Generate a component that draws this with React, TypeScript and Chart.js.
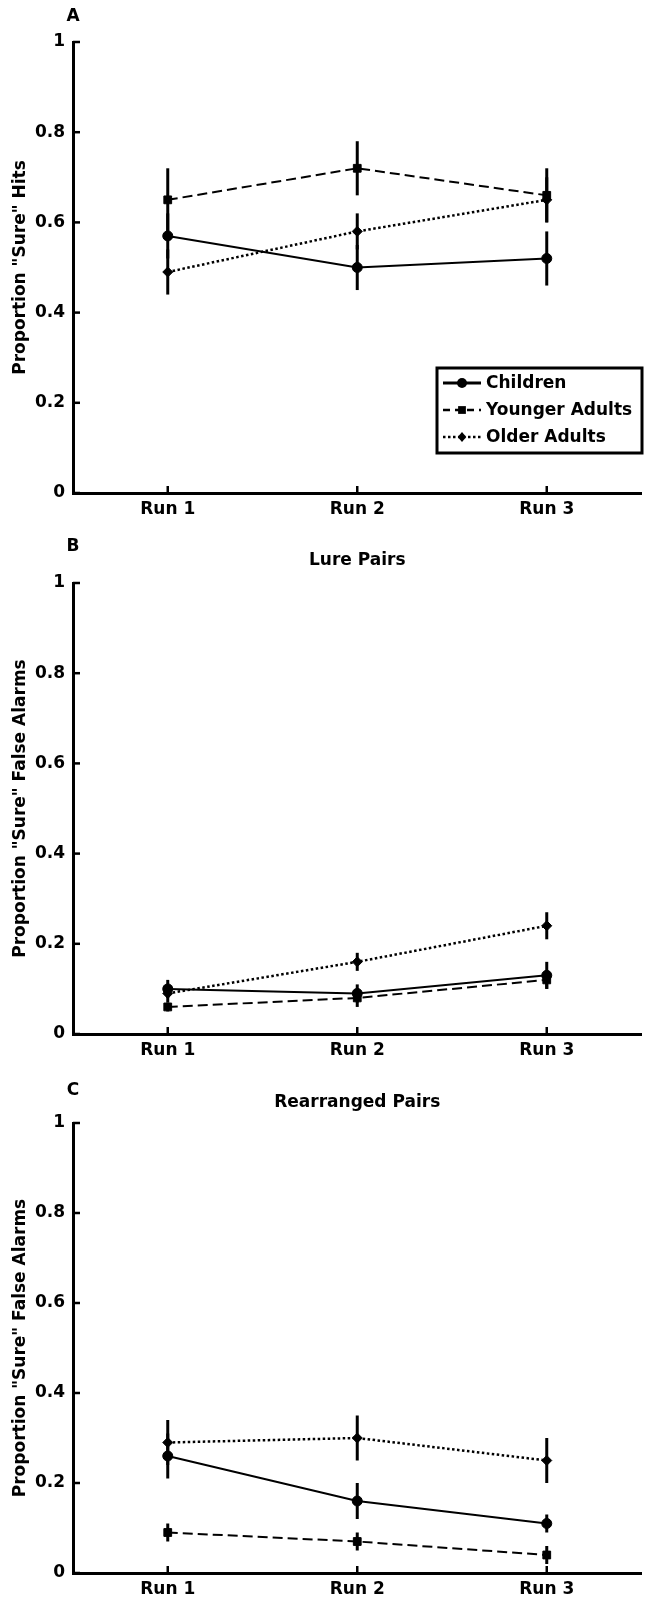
import React, { useEffect, useRef } from "react";
import { Chart, registerables } from "chart.js";

Chart.register(...registerables);

const FONT = "'DejaVu Sans', 'Liberation Sans', Arial, sans-serif";

// ---- categories / labels ----
const runs = ["Run 1", "Run 2", "Run 3"];
const groups = ["Children", "Younger Adults", "Older Adults"];
const yTickValues = [0, 0.2, 0.4, 0.6, 0.8, 1];
const yTickLabels = ["0", "0.2", "0.4", "0.6", "0.8", "1"];

// ---- Panel A: "Sure" hits ----
const hitsChildren = [0.57, 0.5, 0.52];
const hitsChildrenErr = [0.05, 0.05, 0.06];
const hitsYounger = [0.65, 0.72, 0.66];
const hitsYoungerErr = [0.07, 0.06, 0.06];
const hitsOlder = [0.49, 0.58, 0.65];
const hitsOlderErr = [0.05, 0.04, 0.05];

// ---- Panel B: Lure pairs false alarms ----
const lureChildren = [0.1, 0.09, 0.13];
const lureChildrenErr = [0.02, 0.02, 0.03];
const lureYounger = [0.06, 0.08, 0.12];
const lureYoungerErr = [0.01, 0.02, 0.02];
const lureOlder = [0.09, 0.16, 0.24];
const lureOlderErr = [0.02, 0.02, 0.03];

// ---- Panel C: Rearranged pairs false alarms ----
const rearChildren = [0.26, 0.16, 0.11];
const rearChildrenErr = [0.05, 0.04, 0.02];
const rearYounger = [0.09, 0.07, 0.04];
const rearYoungerErr = [0.02, 0.02, 0.02];
const rearOlder = [0.29, 0.3, 0.25];
const rearOlderErr = [0.05, 0.05, 0.05];

type PanelSpec = {
  letter: string;
  title: string;
  yTitle: string;
  series: number[][];
  errors: number[][];
  legend: boolean;
  top: number;
  height: number;
  padTop: number;
  xAxisH: number;
  letterY: number;
  titleY: number;
};

const panels: PanelSpec[] = [
  {
    letter: "A",
    title: "",
    yTitle: 'Proportion "Sure" Hits',
    series: [hitsChildren, hitsYounger, hitsOlder],
    errors: [hitsChildrenErr, hitsYoungerErr, hitsOlderErr],
    legend: true,
    top: 0,
    height: 530,
    padTop: 42,
    xAxisH: 37,
    letterY: 17,
    titleY: 0,
  },
  {
    letter: "B",
    title: "Lure Pairs",
    yTitle: 'Proportion "Sure" False Alarms',
    series: [lureChildren, lureYounger, lureOlder],
    errors: [lureChildrenErr, lureYoungerErr, lureOlderErr],
    legend: false,
    top: 530,
    height: 541,
    padTop: 53,
    xAxisH: 37,
    letterY: 17,
    titleY: 31,
  },
  {
    letter: "C",
    title: "Rearranged Pairs",
    yTitle: 'Proportion "Sure" False Alarms',
    series: [rearChildren, rearYounger, rearOlder],
    errors: [rearChildrenErr, rearYoungerErr, rearOlderErr],
    legend: false,
    top: 1071,
    height: 531,
    padTop: 52,
    xAxisH: 29,
    letterY: 20,
    titleY: 32,
  },
];

const styles = [
  { dash: [] as number[], pointStyle: "circle", radius: 5, width: 2, legendWidth: 3 },
  { dash: [10, 5], pointStyle: "rect", radius: 5.5, width: 2, legendWidth: 2.5 },
  { dash: [2.5, 2.5], pointStyle: "rectRot", radius: 5, width: 2.5, legendWidth: 2.5 },
];

function drawMarker(ctx: CanvasRenderingContext2D, style: string, x: number, y: number, r: number) {
  ctx.beginPath();
  if (style === "circle") {
    ctx.arc(x, y, r, 0, Math.PI * 2);
  } else if (style === "rect") {
    const s = r * Math.SQRT1_2;
    ctx.rect(x - s, y - s, 2 * s, 2 * s);
  } else {
    ctx.moveTo(x, y - r);
    ctx.lineTo(x + r * 0.85, y);
    ctx.lineTo(x, y + r);
    ctx.lineTo(x - r * 0.85, y);
    ctx.closePath();
  }
  ctx.fill();
}

function Panel({ spec }: { spec: PanelSpec }) {
  const ref = useRef<HTMLCanvasElement>(null);

  useEffect(() => {
    const canvas = ref.current;
    if (!canvas) return;

    const datasets = groups.map((g, i) => ({
      label: g,
      data: spec.series[i],
      borderColor: "#000",
      backgroundColor: "#000",
      borderWidth: styles[i].width,
      borderDash: styles[i].dash,
      pointStyle: styles[i].pointStyle as any,
      pointRadius: styles[i].radius,
      pointBorderWidth: 1,
      pointBackgroundColor: "#000",
      pointBorderColor: "#000",
      fill: false,
      tension: 0,
    }));

    const decor = {
      id: "decor",
      beforeDatasetsDraw(chart: any) {
        const ctx: CanvasRenderingContext2D = chart.ctx;
        const xs = chart.scales.x;
        const ys = chart.scales.y;
        ctx.save();
        ctx.strokeStyle = "#000";
        ctx.lineWidth = 3;
        ctx.lineCap = "butt";
        ctx.setLineDash([]);
        spec.series.forEach((vals, i) => {
          vals.forEach((v, j) => {
            const e = spec.errors[i][j];
            const x = xs.getPixelForValue(j);
            ctx.beginPath();
            ctx.moveTo(x, ys.getPixelForValue(v - e));
            ctx.lineTo(x, ys.getPixelForValue(v + e));
            ctx.stroke();
          });
        });
        ctx.restore();
      },
      afterDraw(chart: any) {
        const ctx: CanvasRenderingContext2D = chart.ctx;
        const xs = chart.scales.x;
        const ys = chart.scales.y;
        const area = chart.chartArea;
        ctx.save();
        ctx.strokeStyle = "#000";
        ctx.fillStyle = "#000";
        ctx.setLineDash([]);
        // inward tick marks
        ctx.lineWidth = 2.5;
        yTickValues.forEach((v) => {
          const y = ys.getPixelForValue(v);
          ctx.beginPath();
          ctx.moveTo(area.left, y);
          ctx.lineTo(area.left + 7, y);
          ctx.stroke();
        });
        runs.forEach((_, j) => {
          const x = xs.getPixelForValue(j);
          ctx.beginPath();
          ctx.moveTo(x, area.bottom);
          ctx.lineTo(x, area.bottom - 7);
          ctx.stroke();
        });
        // panel letter
        ctx.font = `bold 17px ${FONT}`;
        ctx.textAlign = "center";
        ctx.textBaseline = "middle";
        ctx.fillText(spec.letter, area.left, spec.letterY);
        // panel title
        if (spec.title) {
          ctx.fillText(spec.title, (area.left + area.right) / 2, spec.titleY);
        }
        // legend
        if (spec.legend) {
          const bx = 437;
          const by = 368;
          const bw = 205;
          const bh = 85;
          ctx.fillStyle = "#fff";
          ctx.fillRect(bx, by, bw, bh);
          ctx.lineWidth = 3;
          ctx.strokeStyle = "#000";
          ctx.strokeRect(bx, by, bw, bh);
          ctx.fillStyle = "#000";
          groups.forEach((g, i) => {
            const y = 383 + 27 * i;
            ctx.lineWidth = styles[i].legendWidth;
            ctx.setLineDash(styles[i].dash.length ? (i === 1 ? [7, 5] : [2.5, 2.5]) : []);
            ctx.beginPath();
            ctx.moveTo(443, y);
            ctx.lineTo(481, y);
            ctx.stroke();
            ctx.setLineDash([]);
            drawMarker(ctx, styles[i].pointStyle, 462, y, styles[i].radius);
            ctx.textAlign = "left";
            ctx.textBaseline = "middle";
            ctx.font = `bold 17px ${FONT}`;
            ctx.fillText(g, 486, y + 1);
          });
        }
        ctx.restore();
      },
    };

    const tickFont = { family: FONT, size: 17, weight: "bold" as const };

    const chart = new Chart(canvas, {
      type: "line",
      data: { labels: runs, datasets },
      options: {
        responsive: false,
        animation: false,
        devicePixelRatio: 1,
        layout: { padding: { top: spec.padTop, right: 5, left: 0, bottom: 0 } },
        plugins: {
          legend: { display: false },
          title: { display: false },
          tooltip: { enabled: false },
        },
        scales: {
          x: {
            type: "category",
            offset: true,
            grid: { display: true, drawOnChartArea: false, drawTicks: false },
            border: { display: true, color: "#000", width: 3 },
            ticks: { color: "#000", font: tickFont, padding: 6, maxRotation: 0, autoSkip: false },
            afterFit: (s: any) => {
              s.height = spec.xAxisH;
            },
          },
          y: {
            type: "linear",
            min: 0,
            max: 1,
            grid: { display: true, drawOnChartArea: false, drawTicks: false },
            border: { display: true, color: "#000", width: 3 },
            ticks: {
              color: "#000",
              font: tickFont,
              padding: 8,
              callback: (_v: any, i: number) => yTickLabels[i],
            },
            afterBuildTicks: (s: any) => {
              s.ticks = yTickValues.map((v) => ({ value: v }));
            },
            title: {
              display: true,
              text: spec.yTitle,
              color: "#000",
              font: tickFont,
              padding: { top: 10, bottom: 0 },
            },
            afterFit: (s: any) => {
              s.width = 73;
            },
          },
        },
      },
      plugins: [decor],
    } as any);

    return () => chart.destroy();
  }, [spec]);

  return (
    <div style={{ position: "absolute", left: 0, top: spec.top, width: 648, height: spec.height }}>
      <canvas ref={ref} width={648} height={spec.height} style={{ width: 648, height: spec.height, display: "block" }} />
    </div>
  );
}

export default function App() {
  return (
    <div
      style={{
        position: "absolute",
        left: 0,
        top: 0,
        width: 648,
        height: 1602,
        overflow: "hidden",
        background: "#fff",
      }}
    >
      {panels.map((p) => (
        <Panel key={p.letter} spec={p} />
      ))}
    </div>
  );
}
